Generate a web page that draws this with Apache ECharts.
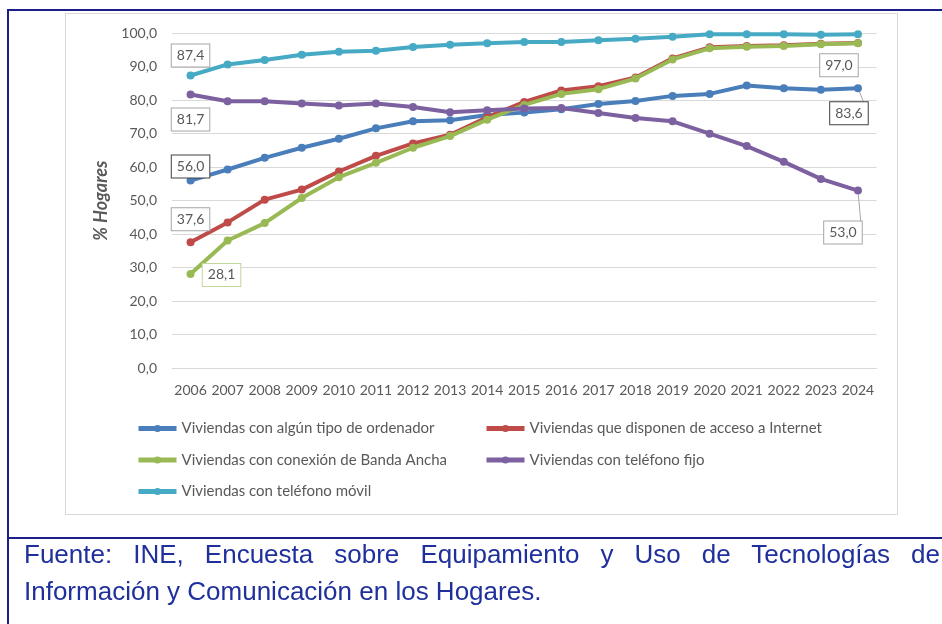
<!DOCTYPE html>
<html><head><meta charset="utf-8">
<script src="https://cdn.jsdelivr.net/npm/echarts@6/dist/echarts.min.js"></script>
<style>
html,body{margin:0;padding:0;width:942px;height:624px;overflow:hidden;background:#fff;}
#frameTop{position:absolute;left:7px;top:9px;width:935px;height:2px;background:#1b1f8a;}
#frameLeft{position:absolute;left:7px;top:9px;width:2px;height:615px;background:#1b1f8a;}
#frameSep{position:absolute;left:7px;top:537px;width:935px;height:2px;background:#1b1f8a;}
#inner{position:absolute;left:65px;top:13px;width:831px;height:500px;border:1px solid #d9d9d9;}
#chart{position:absolute;left:0;top:0;width:942px;height:624px;}
#foot{position:absolute;left:24px;top:536px;width:916px;font-family:'Liberation Sans',Arial,sans-serif;font-size:26px;line-height:37px;color:#1f309c;text-align:justify;}
</style></head>
<body>
<div id="frameTop"></div><div id="frameLeft"></div><div id="frameSep"></div>
<div id="inner"></div>
<div id="chart"></div>
<div id="foot">Fuente: INE, Encuesta sobre Equipamiento y Uso de Tecnologías de Información y Comunicación en los Hogares.</div>
<script>
const years = ['2006','2007','2008','2009','2010','2011','2012','2013','2014','2015','2016','2017','2018','2019','2020','2021','2022','2023','2024'];
const names = ['Viviendas con algún tipo de ordenador','Viviendas que disponen de acceso a Internet','Viviendas con conexión de Banda Ancha','Viviendas con teléfono fijo','Viviendas con teléfono móvil'];
const ordenador = [56.0, 59.3, 62.8, 65.8, 68.5, 71.6, 73.7, 74.0, 75.6, 76.3, 77.3, 78.9, 79.8, 81.3, 81.9, 84.4, 83.6, 83.1, 83.6];
const internet  = [37.6, 43.5, 50.3, 53.3, 58.7, 63.4, 67.1, 69.7, 74.9, 79.5, 82.9, 84.2, 86.8, 92.5, 95.8, 96.2, 96.4, 96.9, 97.1];
const banda     = [28.1, 38.1, 43.3, 50.8, 57.0, 61.3, 65.8, 69.3, 74.2, 78.6, 81.9, 83.3, 86.5, 92.2, 95.5, 96.0, 96.2, 96.7, 97.0];
const fijo      = [81.7, 79.7, 79.7, 79.0, 78.4, 79.0, 78.0, 76.4, 77.0, 77.5, 77.7, 76.2, 74.7, 73.7, 70.0, 66.3, 61.6, 56.5, 53.0];
const movil     = [87.4, 90.7, 92.0, 93.6, 94.5, 94.8, 95.9, 96.6, 97.0, 97.4, 97.4, 97.9, 98.4, 99.0, 99.7, 99.7, 99.7, 99.6, 99.7];

const yTicks = {min: 0, max: 100, interval: 10};
const FONT = 'Lato';
const fmt = v => v.toFixed(1).replace('.', ',');

function lbl(offset, border, leader) {
  const o = {label: {show: true, position: 'inside', offset: offset, borderColor: border}};
  if (leader) o.labelLine = {show: true, lineStyle: {color: '#a6a6a6', width: 1}};
  return o;
}
const labelCfg = [
  {0: lbl([0, -14], '#404040'), 18: lbl([-9, 25], '#404040', true)},
  {0: lbl([0, -23], '#a6a6a6')},
  {0: lbl([31, 1], '#c3d69b'), 18: lbl([-19, 22], '#a6a6a6')},
  {0: lbl([0, 25], '#a6a6a6'), 18: lbl([-15, 42], '#a6a6a6', true)},
  {0: lbl([0, -20], '#a6a6a6')}
];
const colors = ['#4A7EBB', '#BE4B48', '#98B954', '#7D60A0', '#46AAC5'];
const values = [ordenador, internet, banda, fijo, movil];

const series = values.map((vals, s) => ({
  name: names[s],
  type: 'line',
  data: vals.map((v, i) => labelCfg[s][i] ? Object.assign({value: v}, labelCfg[s][i]) : v),
  symbol: 'circle',
  symbolSize: 8,
  lineStyle: {width: 4, color: colors[s]},
  itemStyle: {color: colors[s]},
  label: {
    show: false,
    formatter: p => fmt(p.value),
    fontFamily: FONT, fontSize: 14, color: '#595959',
    backgroundColor: '#fff', borderWidth: 1, padding: [4, 5]
  },
  emphasis: {disabled: true},
  z: 2 + s
}));

const legendCommon = {orient: 'vertical', top: 416, itemGap: 16.5, itemWidth: 38, itemHeight: 9,
  lineStyle: {width: 5},
  textStyle: {fontFamily: FONT, fontSize: 15, color: '#595959'}};

const chart = echarts.init(document.getElementById('chart'));
chart.setOption({
  animation: false,
  color: colors,
  grid: {left: 172, right: 65.5, top: 33.3, bottom: 256},
  xAxis: {
    type: 'category', data: years, boundaryGap: true,
    axisLine: {show: true, lineStyle: {color: '#d9d9d9'}},
    axisTick: {show: false},
    axisLabel: {interval: 0, fontFamily: FONT, fontSize: 14, color: '#595959', margin: 15}
  },
  yAxis: {
    type: 'value', min: yTicks.min, max: yTicks.max, interval: yTicks.interval,
    name: '% Hogares', nameLocation: 'middle', nameRotate: 90, nameGap: 52,
    nameTextStyle: {fontFamily: FONT, fontSize: 18, fontStyle: 'italic', fontWeight: 'bold', color: '#595959'},
    axisLine: {show: false}, axisTick: {show: false},
    splitLine: {lineStyle: {color: '#d9d9d9'}},
    axisLabel: {formatter: fmt, fontFamily: FONT, fontSize: 14, color: '#595959', margin: 15}
  },
  legend: [
    Object.assign({left: 131, data: [names[0], names[2], names[4]]}, legendCommon),
    Object.assign({left: 479, data: [names[1], names[3]]}, legendCommon)
  ],
  series: series
});
</script>
</body></html>
